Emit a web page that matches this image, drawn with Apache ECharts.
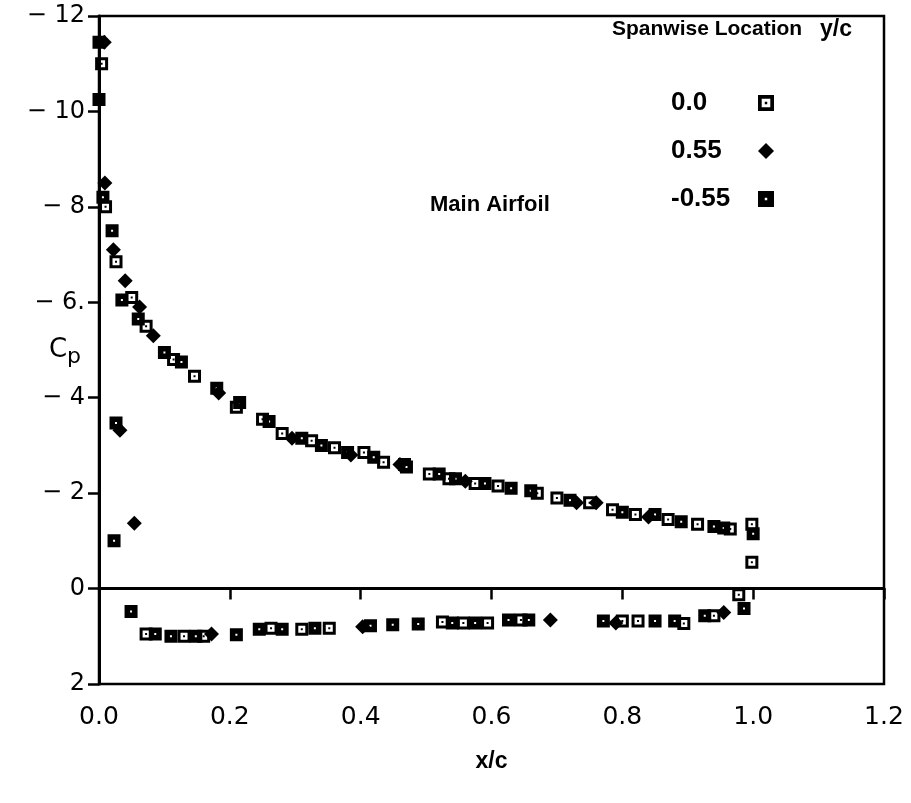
<!DOCTYPE html>
<html>
<head>
<meta charset="utf-8">
<script src="https://cdn.jsdelivr.net/npm/echarts@6/dist/echarts.min.js"></script>
<style>
html,body{margin:0;padding:0;background:#fff;}
#chart{width:911px;height:803px;}
</style>
</head>
<body>
<div id="chart"></div>
<script>
// Series names (spanwise location y/c)
var seriesNames = ['0.0', '0.55', '-0.55'];

// y/c = 0.0 : [x/c, Cp]
var span00 = [
  [0.004,-11.0],[0.010,-8.0],[0.026,-6.85],[0.050,-6.1],[0.072,-5.5],[0.114,-4.8],
  [0.146,-4.45],[0.210,-3.8],[0.250,-3.55],[0.280,-3.25],[0.325,-3.1],[0.360,-2.95],
  [0.405,-2.85],[0.435,-2.65],[0.467,-2.6],[0.505,-2.4],[0.535,-2.3],[0.575,-2.2],
  [0.610,-2.15],[0.670,-2.0],[0.700,-1.9],[0.750,-1.8],[0.785,-1.65],[0.820,-1.55],
  [0.870,-1.45],[0.915,-1.35],[0.965,-1.25],[0.998,-1.35],[0.998,-0.55],
  [0.072,0.95],[0.130,1.0],[0.160,1.0],[0.263,0.83],[0.310,0.85],[0.352,0.83],
  [0.525,0.70],[0.557,0.72],[0.594,0.72],[0.645,0.66],[0.800,0.68],[0.824,0.68],
  [0.894,0.73],[0.940,0.57],[0.978,0.13]
];

// y/c = 0.55 : [x/c, Cp]
var span055 = [
  [0.008,-11.45],[0.009,-8.5],[0.022,-7.1],[0.040,-6.45],[0.062,-5.9],[0.083,-5.3],
  [0.183,-4.1],[0.295,-3.15],[0.385,-2.8],[0.460,-2.6],[0.560,-2.25],[0.730,-1.8],
  [0.760,-1.8],[0.840,-1.5],[0.032,-3.32],[0.054,-1.37],
  [0.172,0.95],[0.403,0.80],[0.690,0.66],[0.790,0.72],[0.955,0.50]
];

// y/c = -0.55 : [x/c, Cp]
var spanm055 = [
  [0.000,-11.45],[0.000,-10.25],[0.006,-8.2],[0.020,-7.5],[0.035,-6.05],[0.060,-5.65],
  [0.100,-4.95],[0.126,-4.75],[0.180,-4.2],[0.215,-3.9],[0.260,-3.5],[0.310,-3.15],
  [0.340,-3.0],[0.380,-2.85],[0.420,-2.75],[0.470,-2.55],[0.520,-2.4],[0.545,-2.3],
  [0.590,-2.2],[0.630,-2.1],[0.660,-2.05],[0.720,-1.85],[0.800,-1.6],[0.850,-1.55],
  [0.890,-1.4],[0.940,-1.3],[0.955,-1.27],[1.000,-1.15],
  [0.026,-3.47],[0.023,-1.0],[0.049,0.48],
  [0.086,0.95],[0.110,1.0],[0.148,1.0],[0.210,0.97],[0.245,0.85],[0.280,0.85],
  [0.330,0.83],[0.415,0.78],[0.449,0.76],[0.488,0.74],[0.540,0.72],[0.575,0.72],
  [0.626,0.66],[0.657,0.66],[0.771,0.68],[0.850,0.68],[0.880,0.68],[0.926,0.57],
  [0.986,0.42]
];

// Tick labels
var yTickLabels = {'-12':'\u2212 12','-10':'\u2212 10','-8':'\u2212 8','-6':'\u2212 6.','-4':'\u2212 4','-2':'\u2212 2','0':'0','2':'2'};

var chart = echarts.init(document.getElementById('chart'), null, {renderer:'canvas'});
var FONT = 'DejaVu Sans';
var LFONT = 'Liberation Sans';
// marker shapes (black square with white hole + centre dot; black square with tiny white dot)
var symOpen = 'path://M0,0H13V13H0Z M3,3V10H10V3Z M5.5,5.5H7.5V7.5H5.5Z';
var symDot = 'path://M0,0H13V13H0Z M5.5,5.5V7.5H7.5V5.5Z';
var blk = {color: '#000', borderWidth: 0, opacity: 1};
var option = {
  animation: false,
  backgroundColor: '#fff',
  grid: {left: 99, right: 27, top: 16, bottom: 119, show: true, borderColor: '#000', borderWidth: 2.5},
  xAxis: {
    type: 'value', min: 0, max: 1.2, interval: 0.2,
    name: 'x/c', nameLocation: 'middle', nameGap: 66, nameMoveOverlap: false,
    nameTextStyle: {fontFamily: LFONT, fontSize: 23, fontWeight: 'bold', color: '#000', letterSpacing: -1},
    axisLine: {lineStyle: {color: '#000', width: 3}},
    axisTick: {inside: false, length: 11, lineStyle: {color: '#000', width: 2.5}},
    axisLabel: {fontFamily: FONT, fontSize: 25, color: '#000', margin: 21, formatter: function(v){return v.toFixed(1);}},
    splitLine: {show: false}
  },
  yAxis: {
    type: 'value', min: -12, max: 2, interval: 2, inverse: true,
    name: '{c|C}{p|p}', nameLocation: 'middle', nameGap: 18, nameRotate: 0, nameMoveOverlap: false,
    nameTextStyle: {rich: {
      c: {fontFamily: FONT, fontSize: 26, color: '#000'},
      p: {fontFamily: FONT, fontSize: 22, color: '#000', padding: [14, 0, 0, 0]}
    }},
    axisLine: {lineStyle: {color: '#000', width: 3}},
    axisTick: {inside: false, length: 11, lineStyle: {color: '#000', width: 2.5}},
    axisLabel: {fontFamily: FONT, fontSize: 24, color: '#000', margin: 14, formatter: function(v){return yTickLabels[String(v)] || String(v);}},
    splitLine: {show: false}
  },
  legend: {
    orient: 'vertical', left: 666, top: 85, align: 'right', itemGap: 22,
    itemWidth: 16, itemHeight: 16,
    formatter: function(name){ return '{t|' + name + '}'; },
    textStyle: {
      fontFamily: LFONT, fontSize: 26, fontWeight: 'bold', color: '#000',
      rich: {t: {fontFamily: LFONT, fontSize: 26, fontWeight: 'bold', color: '#000', width: 82, align: 'left'}}
    },
    data: seriesNames
  },
  graphic: [
    {type: 'text', left: 612, top: 19, style: {text: 'Spanwise Location', fontFamily: LFONT, fontSize: 21, fontWeight: 'bold', fill: '#000', letterSpacing: -1.1}},
    {type: 'text', left: 820, top: 18, style: {text: 'y/c', fontFamily: LFONT, fontSize: 23, fontWeight: 'bold', fill: '#000', letterSpacing: -0.3}},
    {type: 'text', left: 430, top: 194, style: {text: 'Main Airfoil', fontFamily: LFONT, fontSize: 22, fontWeight: 'bold', fill: '#000', letterSpacing: -0.7}}
  ],
  series: [
    {name: seriesNames[0], type: 'scatter', data: span00, symbol: symOpen, symbolSize: 13, itemStyle: blk},
    {name: seriesNames[1], type: 'scatter', data: span055, symbol: 'diamond', symbolSize: 15, itemStyle: blk},
    {name: seriesNames[2], type: 'scatter', data: spanm055, symbol: symDot, symbolSize: 13, itemStyle: blk}
  ]
};
chart.setOption(option);
</script>
</body>
</html>
